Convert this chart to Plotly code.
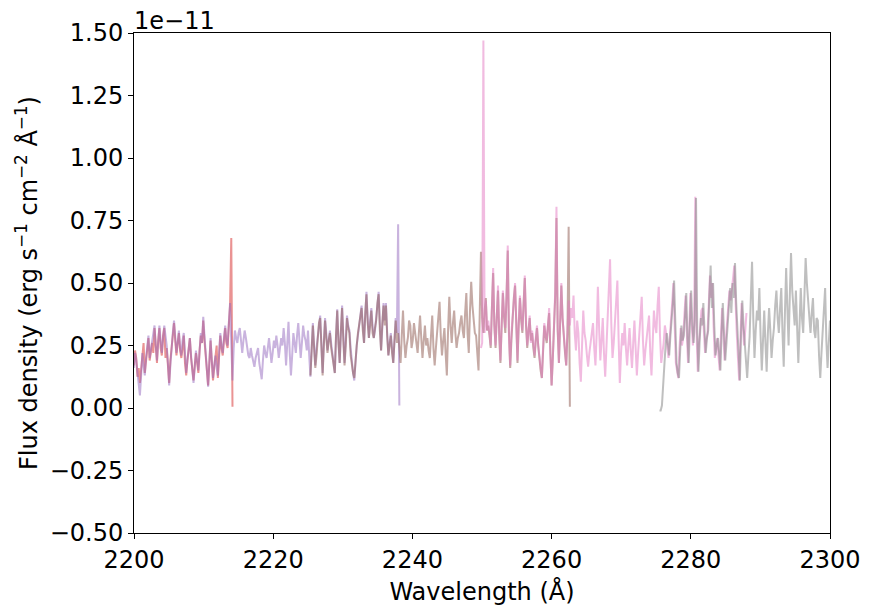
import numpy as np
import plotly.graph_objects as go

# Wavelength grid step (Angstrom) shared by all echelle orders
STEP = 0.175

# Flux density in units of 1e-11 erg s^-1 cm^-2 A^-1, one list per order
red_start = 2199.8
red_flux = [0.22, 0.17, 0.23, 0.20, 0.125, 0.16, 0.10, 0.15, 0.21, 0.26,
            0.14, 0.19, 0.24, 0.28, 0.19, 0.23, 0.26, 0.22, 0.32, 0.25,
            0.18, 0.27, 0.32, 0.24, 0.21, 0.29, 0.32, 0.20, 0.24, 0.17,
            0.10, 0.19, 0.25, 0.29, 0.34, 0.27, 0.21, 0.26, 0.30, 0.23,
            0.20, 0.24, 0.29, 0.18, 0.13, 0.19, 0.24, 0.28, 0.20, 0.16,
            0.11, 0.17, 0.22, 0.18, 0.14, 0.23, 0.29, 0.26, 0.35, 0.27,
            0.21, 0.15, 0.09, 0.18, 0.27, 0.19, 0.11, 0.16, 0.20, 0.25,
            0.12, 0.21, 0.29, 0.24, 0.21, 0.27, 0.32, 0.26, 0.24, 0.33,
            0.41, 0.68, 0.005]

purple_start = 2199.8
purple_flux = [
    0.20, 0.16, 0.22, 0.19, 0.14, 0.09, 0.05, 0.13, 0.22, 0.17, 0.13, 0.20, 0.245, 0.29, 0.20, 0.23, 0.27, 0.30, 0.33, 0.25,
    0.19, 0.26, 0.33, 0.27, 0.22, 0.28, 0.33, 0.29, 0.25, 0.18, 0.09, 0.17, 0.26, 0.30, 0.35, 0.28, 0.22, 0.26, 0.31, 0.24,
    0.21, 0.27, 0.30, 0.22, 0.14, 0.19, 0.25, 0.28, 0.21, 0.15, 0.10, 0.16, 0.23, 0.19, 0.15, 0.23, 0.30, 0.26, 0.365, 0.29,
    0.22, 0.15, 0.085, 0.18, 0.28, 0.19, 0.12, 0.17, 0.21, 0.16, 0.13, 0.22, 0.30, 0.25, 0.22, 0.28, 0.33, 0.27, 0.25, 0.34,
    0.42, 0.26, 0.11, 0.24, 0.31, 0.28, 0.26, 0.30, 0.32, 0.27, 0.22, 0.27, 0.31, 0.28, 0.25, 0.21, 0.20, 0.24, 0.21, 0.18,
    0.165, 0.20, 0.22, 0.24, 0.18, 0.14, 0.115, 0.19, 0.25, 0.22, 0.20, 0.24, 0.28, 0.23, 0.18, 0.22, 0.27, 0.24, 0.29, 0.25,
    0.20, 0.24, 0.28, 0.25, 0.32, 0.26, 0.17, 0.26, 0.345, 0.22, 0.13, 0.21, 0.30, 0.26, 0.22, 0.29, 0.34, 0.27, 0.20, 0.26,
    0.33, 0.29, 0.27, 0.23, 0.31, 0.21, 0.125, 0.24, 0.34, 0.25, 0.17, 0.24, 0.30, 0.33, 0.37, 0.25, 0.14, 0.26, 0.36, 0.30,
    0.23, 0.27, 0.31, 0.26, 0.21, 0.17, 0.14, 0.28, 0.395, 0.27, 0.18, 0.30, 0.41, 0.29, 0.18, 0.27, 0.37, 0.33, 0.31, 0.24,
    0.17, 0.14, 0.11, 0.19, 0.25, 0.29, 0.34, 0.38, 0.41, 0.33, 0.26, 0.37, 0.465, 0.36, 0.28, 0.35, 0.40, 0.33, 0.28, 0.31,
    0.36, 0.41, 0.465, 0.34, 0.23, 0.32, 0.42, 0.35, 0.42, 0.30, 0.21, 0.26, 0.30, 0.24, 0.18, 0.27, 0.36, 0.30, 0.735, 0.01]

brown_start = 2225.35
brown_flux = [
    0.13, 0.22, 0.33, 0.24, 0.16, 0.21, 0.30, 0.34, 0.36, 0.22, 0.13, 0.25, 0.35, 0.28, 0.22, 0.27, 0.30, 0.24, 0.20, 0.17,
    0.14, 0.29, 0.39, 0.26, 0.18, 0.31, 0.40, 0.27, 0.17, 0.25, 0.36, 0.32, 0.30, 0.21, 0.17, 0.14, 0.12, 0.20, 0.25, 0.30,
    0.33, 0.37, 0.40, 0.31, 0.26, 0.38, 0.455, 0.34, 0.28, 0.33, 0.39, 0.30, 0.28, 0.32, 0.35, 0.42, 0.455, 0.31, 0.23, 0.34,
    0.41, 0.33, 0.41, 0.29, 0.21, 0.25, 0.29, 0.22, 0.18, 0.27, 0.35, 0.26, 0.30, 0.24, 0.18, 0.29, 0.39, 0.27, 0.20, 0.25,
    0.28, 0.35, 0.33, 0.24, 0.27, 0.34, 0.30, 0.26, 0.22, 0.30, 0.37, 0.28, 0.20, 0.27, 0.33, 0.25, 0.28, 0.23, 0.20, 0.29,
    0.37, 0.24, 0.17, 0.24, 0.30, 0.36, 0.425, 0.29, 0.21, 0.27, 0.32, 0.22, 0.13, 0.31, 0.445, 0.33, 0.26, 0.34, 0.39, 0.30,
    0.24, 0.28, 0.30, 0.34, 0.37, 0.31, 0.28, 0.38, 0.46, 0.30, 0.22, 0.39, 0.505, 0.41, 0.35, 0.30, 0.29, 0.20, 0.15, 0.38,
    0.625, 0.36, 0.30, 0.39, 0.44, 0.31, 0.33, 0.29, 0.24, 0.40, 0.54, 0.33, 0.24, 0.37, 0.47, 0.29, 0.18, 0.33, 0.46, 0.36,
    0.30, 0.45, 0.63, 0.30, 0.16, 0.27, 0.38, 0.44, 0.49, 0.31, 0.18, 0.33, 0.44, 0.35, 0.30, 0.42, 0.52, 0.33, 0.24, 0.31,
    0.36, 0.27, 0.30, 0.24, 0.20, 0.27, 0.32, 0.25, 0.19, 0.15, 0.12, 0.24, 0.33, 0.29, 0.26, 0.33, 0.38, 0.22, 0.09, 0.20,
    0.30, 0.45, 0.76, 0.31, 0.18, 0.35, 0.49, 0.36, 0.28, 0.22, 0.17, 0.30, 0.725, 0.005]

pink_start = 2249.85
pink_flux = [
    0.24, 0.26, 1.47, 0.30, 0.43, 0.31, 0.35, 0.28, 0.25, 0.40, 0.56, 0.33, 0.25, 0.36, 0.49, 0.30, 0.19, 0.33, 0.47, 0.38,
    0.32, 0.44, 0.65, 0.28, 0.17, 0.30, 0.39, 0.43, 0.50, 0.31, 0.19, 0.34, 0.45, 0.38, 0.31, 0.40, 0.53, 0.35, 0.25, 0.30,
    0.37, 0.26, 0.31, 0.26, 0.21, 0.28, 0.33, 0.25, 0.20, 0.16, 0.12, 0.24, 0.34, 0.30, 0.27, 0.33, 0.40, 0.22, 0.09, 0.20,
    0.31, 0.47, 0.805, 0.32, 0.18, 0.35, 0.50, 0.36, 0.29, 0.22, 0.17, 0.30, 0.43, 0.33, 0.40, 0.36, 0.45, 0.30, 0.23, 0.35,
    0.30, 0.18, 0.105, 0.25, 0.39, 0.30, 0.27, 0.21, 0.165, 0.22, 0.27, 0.31, 0.34, 0.24, 0.17, 0.30, 0.485, 0.32, 0.19, 0.27,
    0.36, 0.22, 0.125, 0.24, 0.36, 0.45, 0.595, 0.34, 0.20, 0.26, 0.33, 0.42, 0.51, 0.28, 0.10, 0.22, 0.30, 0.25, 0.34, 0.24,
    0.17, 0.25, 0.32, 0.23, 0.16, 0.26, 0.35, 0.24, 0.13, 0.22, 0.30, 0.37, 0.445, 0.27, 0.17, 0.23, 0.28, 0.33, 0.37, 0.22,
    0.13, 0.26, 0.39, 0.33, 0.30, 0.41, 0.485, 0.29, 0.18, 0.22, 0.26, 0.33, 0.30, 0.24, 0.20, 0.28, 0.34, 0.42, 0.50, 0.30,
    0.18, 0.15, 0.12, 0.24, 0.32, 0.25, 0.28, 0.37, 0.45, 0.30, 0.18, 0.32, 0.46, 0.34, 0.25, 0.33, 0.845, 0.30, 0.145, 0.26,
    0.35, 0.39, 0.40, 0.30, 0.22, 0.27, 0.30, 0.41, 0.53, 0.44, 0.50, 0.33, 0.20, 0.24, 0.28, 0.21, 0.15, 0.29, 0.40, 0.30,
    0.19, 0.27, 0.33, 0.41, 0.47, 0.43, 0.49, 0.52, 0.57, 0.41, 0.30, 0.20, 0.11, 0.27, 0.42, 0.33, 0.25, 0.31, 0.38]

gray_start = 2275.5
gray_flux = [
    -0.01, -0.01, 0.01, 0.10, 0.18, 0.25, 0.30, 0.26, 0.21, 0.29, 0.34, 0.42, 0.51, 0.31, 0.18, 0.14, 0.12, 0.23, 0.33, 0.27,
    0.29, 0.37, 0.46, 0.28, 0.18, 0.34, 0.47, 0.33, 0.26, 0.35, 0.84, 0.30, 0.145, 0.27, 0.36, 0.33, 0.42, 0.31, 0.22, 0.28,
    0.31, 0.45, 0.57, 0.40, 0.50, 0.33, 0.21, 0.25, 0.28, 0.22, 0.15, 0.30, 0.42, 0.30, 0.19, 0.26, 0.34, 0.40, 0.48, 0.38,
    0.50, 0.44, 0.58, 0.42, 0.30, 0.19, 0.11, 0.30, 0.43, 0.33, 0.26, 0.19, 0.12, 0.21, 0.285, 0.44, 0.585, 0.36, 0.20, 0.31,
    0.39, 0.35, 0.48, 0.29, 0.15, 0.27, 0.39, 0.26, 0.145, 0.30, 0.40, 0.31, 0.20, 0.27, 0.32, 0.41, 0.47, 0.36, 0.30, 0.40,
    0.48, 0.30, 0.165, 0.38, 0.56, 0.40, 0.25, 0.45, 0.62, 0.47, 0.39, 0.33, 0.47, 0.30, 0.18, 0.33, 0.48, 0.36, 0.30, 0.45,
    0.60, 0.50, 0.42, 0.34, 0.30, 0.38, 0.44, 0.31, 0.28, 0.36, 0.35, 0.21, 0.12, 0.22, 0.30, 0.41, 0.48, 0.27, 0.16, 0.26,
    0.35, 0.24, 0.30]

orders = [
    (red_start, red_flux, "rgba(214,39,40,0.5)"),
    (purple_start, purple_flux, "rgba(148,103,189,0.5)"),
    (brown_start, brown_flux, "rgba(140,86,75,0.5)"),
    (pink_start, pink_flux, "rgba(227,119,194,0.5)"),
    (gray_start, gray_flux, "rgba(127,127,127,0.5)"),
]

x_ticks = [2200, 2220, 2240, 2260, 2280, 2300]
y_ticks = [-0.50, -0.25, 0.00, 0.25, 0.50, 0.75, 1.00, 1.25, 1.50]

fig = go.Figure()
for start, flux, color in orders:
    wl = start + STEP * np.arange(len(flux))
    fig.add_trace(go.Scatter(
        x=wl, y=flux, mode="lines",
        line=dict(color=color, width=2), showlegend=False, hoverinfo="skip"))

FONT = "DejaVu Sans, Arial, sans-serif"
fig.update_layout(
    width=873, height=614,
    margin=dict(l=134, r=43, t=33, b=81),
    paper_bgcolor="white", plot_bgcolor="white",
    font=dict(family=FONT, size=24, color="black"),
    xaxis=dict(
        range=[2200, 2300], tickvals=x_ticks,
        ticktext=[str(v) for v in x_ticks],
        showgrid=False, zeroline=False,
        showline=True, mirror=True, linecolor="black", linewidth=1,
        ticks="outside", ticklen=5, tickwidth=1, tickcolor="black",
        title=dict(text="Wavelength (Å)", standoff=10, font=dict(size=24)),
    ),
    yaxis=dict(
        range=[-0.5, 1.5], tickvals=y_ticks,
        ticktext=[f"{v:.2f}".replace("-", "\u2212") for v in y_ticks],
        showgrid=False, zeroline=False,
        showline=True, mirror=True, linecolor="black", linewidth=1,
        ticks="outside", ticklen=5, tickwidth=1, tickcolor="black",
    ),
    annotations=[
        dict(text="1e\u221211", xref="paper", yref="paper", x=0, y=1,
             xanchor="left", yanchor="bottom", showarrow=False,
             font=dict(size=24), xshift=-2, yshift=-4),
        dict(text="Flux density (erg s<sup>\u22121</sup> cm<sup>\u22122</sup> Å<sup>\u22121</sup>)",
             xref="paper", yref="paper", x=(27 - 134) / 696, y=0.5,
             xanchor="center", yanchor="middle", textangle=-90,
             showarrow=False, font=dict(size=24)),
    ],
)

fig.write_html("out.html")
